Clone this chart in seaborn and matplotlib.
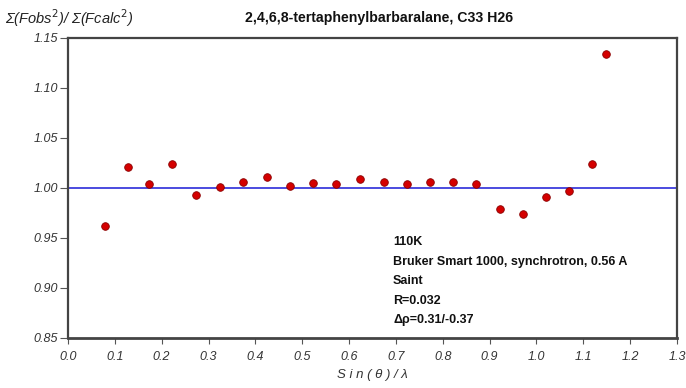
import matplotlib
matplotlib.use("Agg")
import matplotlib.pyplot as plt
import seaborn as sns
import pandas as pd

sin_theta_lambda = [0.08, 0.128, 0.173, 0.223, 0.273, 0.325, 0.373, 0.424, 0.473, 0.523,
                    0.573, 0.623, 0.674, 0.723, 0.773, 0.822, 0.871, 0.922, 0.971, 1.021,
                    1.070, 1.118, 1.148]
ratio = [0.962, 1.021, 1.004, 1.024, 0.993, 1.001, 1.006, 1.011, 1.002, 1.005,
         1.004, 1.009, 1.006, 1.004, 1.006, 1.006, 1.004, 0.979, 0.974, 0.991,
         0.997, 1.024, 1.134]
x_ticks = [0.0, 0.1, 0.2, 0.3, 0.4, 0.5, 0.6, 0.7, 0.8, 0.9, 1.0, 1.1, 1.2, 1.3]
y_ticks = [0.85, 0.90, 0.95, 1.00, 1.05, 1.10, 1.15]
title = "2,4,6,8-tertaphenylbarbaralane, C33 H26"
info_lines = ["110K", "Bruker Smart 1000, synchrotron, 0.56 A", "Saint", "R=0.032",
              "\u0394\u03c1=0.31/-0.37"]

sns.set_theme(style="white")
plt.rcParams['font.family'] = ['Liberation Sans', 'DejaVu Sans']

df = pd.DataFrame({"x": sin_theta_lambda, "y": ratio})

fig = plt.figure(figsize=(6.86, 3.88), dpi=100)
ax = fig.add_axes([68/686, 1 - 338/388, (677 - 68)/686, (338 - 38)/388])

ax.axhline(1.0, color="#1a1ad6", lw=1.1, zorder=1)
sns.scatterplot(data=df, x="x", y="y", ax=ax, color="#d40000", edgecolor="#8a0000",
                linewidth=0.6, s=30, zorder=3)

ax.set_xlim(0.0, 1.3)
ax.set_ylim(0.85, 1.15)
ax.set_xticks(x_ticks)
ax.set_xticklabels([f"{v:.1f}" for v in x_ticks], fontstyle="italic", fontsize=9, color="#333333")
ax.set_yticks(y_ticks)
ax.set_yticklabels([f"{v:.2f}" for v in y_ticks], fontstyle="italic", fontsize=9, color="#333333")
ax.tick_params(axis="y", direction="out", length=6, width=0.8, color="#555555",
               left=True, pad=1)
ax.tick_params(axis="x", direction="out", length=4, width=0.8, color="#555555",
               bottom=True, pad=5)

for side in ["left", "bottom", "right", "top"]:
    ax.spines[side].set_color("#444444")
    ax.spines[side].set_linewidth(1.6)
ax.spines["bottom"].set_linewidth(2.0)

ax.set_xlabel("S i n ( \u03b8 ) / \u03bb", fontstyle="italic", fontsize=9.5, labelpad=5, color="#333333")
ax.set_ylabel("")

fig.text(5/686, 1 - 18/388, "\u03a3(Fobs$^2$)/ \u03a3(Fcalc$^2$)", fontstyle="italic",
         fontsize=10.5, ha="left", va="center", color="#222222")
fig.text(379/686, 1 - 18/388, title, fontweight="bold", fontsize=10.2, ha="center",
         va="center", color="#111111")

for i, line in enumerate(info_lines):
    ax.text(393/686, 1 - (242 + i*19.5)/388, line, transform=fig.transFigure,
            fontweight="bold", fontsize=9, ha="left", va="center", color="#111111")

fig.savefig("out.png", dpi=100)
